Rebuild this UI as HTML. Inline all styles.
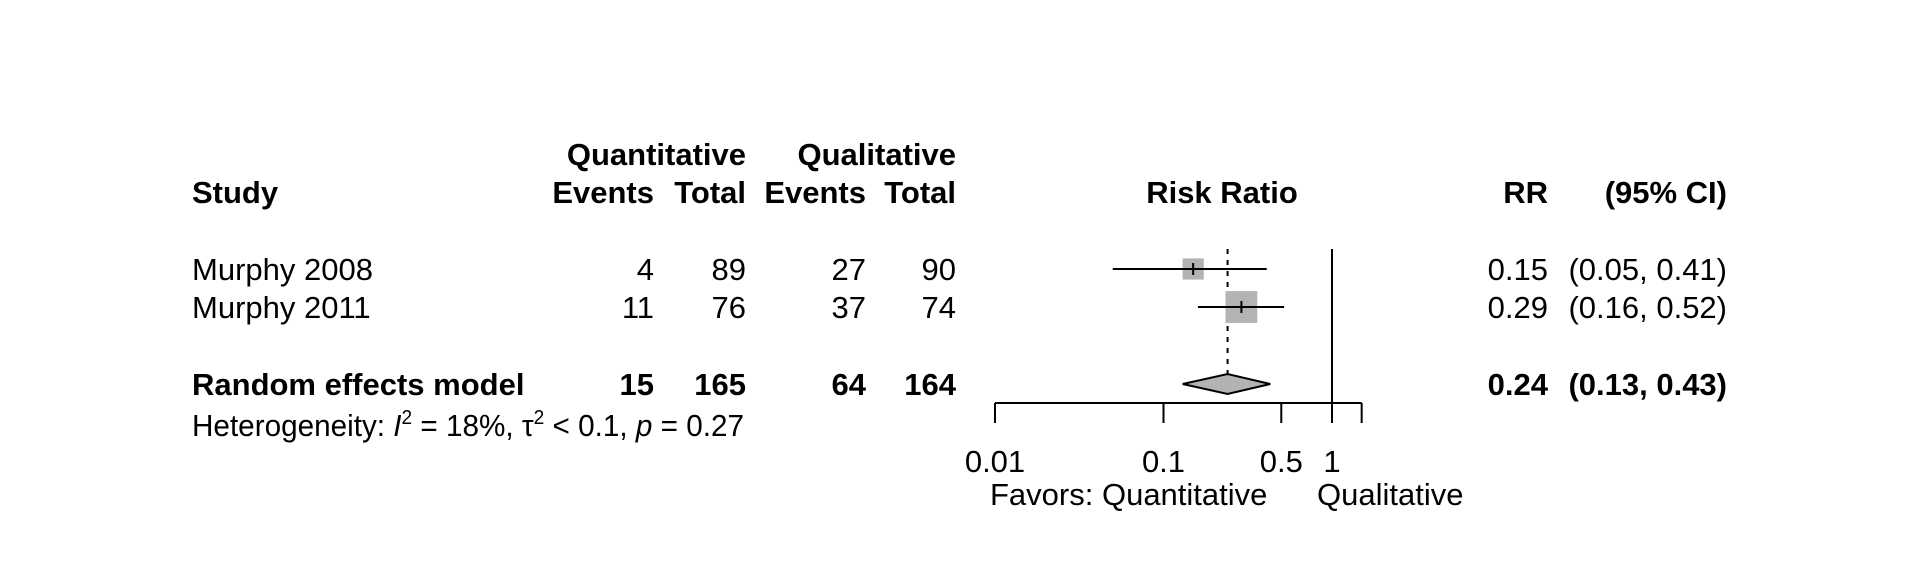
<!DOCTYPE html>
<html><head><meta charset="utf-8"><style>
html,body{margin:0;padding:0;background:#fff}
svg{display:block}
text{font-family:"Liberation Sans",Arial,sans-serif;font-size:31px;fill:#000}
.b{font-weight:bold}
</style></head><body>
<svg id="chart" width="1920" height="576" viewBox="0 0 1920 576">
<g id="table"></g>
<g id="plot"></g>
</svg>
<script>
const studies=["Murphy 2008","Murphy 2011"];
const qEvents=[4,11];
const qTotal=[89,76];
const lEvents=[27,37];
const lTotal=[90,74];
const rr=[0.15,0.29];
const lower=[0.05,0.16];
const upper=[0.41,0.52];
const weights=[0.4,0.6];
const pooled=[0.24,0.13,0.43];
const pooledCounts=[15,165,64,164];
const ticks=[0.01,0.1,0.5,1,1.5];
const tickLabels=["0.01","0.1","0.5","1",""];

const NS="http://www.w3.org/2000/svg";
const xs=v=>1332+168.5*Math.log10(v);
const rowY=[269,307];
function el(tag,attrs,parent,txt){const e=document.createElementNS(NS,tag);for(const k in attrs)e.setAttribute(k,attrs[k]);if(txt!==undefined)e.textContent=txt;parent.appendChild(e);return e;}
const T=document.getElementById('table'),P=document.getElementById('plot');
function txt(x,y,s,anchor,bold,name){const e=el('text',{x:x,y:y,'text-anchor':anchor||'start'},T,s);if(bold)e.setAttribute('class','b');

return e;}
txt(746,165,"Quantitative","end",1,"header-quantitative");
txt(956,165,"Qualitative","end",1,"header-qualitative");
txt(192,203,"Study","start",1,"header-study");
txt(654,203,"Events","end",1,"header-q-events");
txt(746,203,"Total","end",1,"header-q-total");
txt(866,203,"Events","end",1,"header-l-events");
txt(956,203,"Total","end",1,"header-l-total");
txt(1222,203,"Risk Ratio","middle",1,"header-risk-ratio");
txt(1548,203,"RR","end",1,"header-rr");
txt(1727,203,"(95% CI)","end",1,"header-ci");
const f=v=>v.toFixed(2);
studies.forEach((s,i)=>{const y=rowY[i]+11;
txt(192,y,s,"start",0,"study-name");
txt(654,y,String(qEvents[i]),"end",0,"q-events");
txt(746,y,String(qTotal[i]),"end",0,"q-total");
txt(866,y,String(lEvents[i]),"end",0,"l-events");
txt(956,y,String(lTotal[i]),"end",0,"l-total");
txt(1548,y,f(rr[i]),"end",0,"rr-value");
txt(1727,y,"("+f(lower[i])+", "+f(upper[i])+")","end",0,"ci-value");
});
const sy=395;
txt(192,sy,"Random effects model","start",1,"pooled-label");
txt(654,sy,String(pooledCounts[0]),"end",1,"pooled-q-events");
txt(746,sy,String(pooledCounts[1]),"end",1,"pooled-q-total");
txt(866,sy,String(pooledCounts[2]),"end",1,"pooled-l-events");
txt(956,sy,String(pooledCounts[3]),"end",1,"pooled-l-total");
txt(1548,sy,f(pooled[0]),"end",1,"pooled-rr");
txt(1727,sy,"("+f(pooled[1])+", "+f(pooled[2])+")","end",1,"pooled-ci");
const h=el('text',{x:192,y:436,textLength:552,lengthAdjust:'spacingAndGlyphs'},T);


h.innerHTML='Heterogeneity: <tspan font-style="italic">I</tspan><tspan dy="-12" font-size="20">2</tspan><tspan dy="12"> = 18%, τ</tspan><tspan dy="-12" font-size="20">2</tspan><tspan dy="12"> &lt; 0.1, </tspan><tspan font-style="italic">p</tspan> = 0.27';
let ln=el('line',{x1:xs(1),x2:xs(1),y1:249,y2:403,stroke:'#000','stroke-width':2},P);

ln=el('line',{x1:xs(pooled[0]),x2:xs(pooled[0]),y1:249,y2:374,stroke:'#000','stroke-width':2,'stroke-dasharray':'5,6'},P);

studies.forEach((s,i)=>{const y=rowY[i];const sz=weights[i]*53;
const r=el('rect',{x:xs(rr[i])-sz/2,y:y-sz/2,width:sz,height:sz,fill:'#b3b3b3'},P);

const c=el('line',{x1:xs(lower[i]),x2:xs(upper[i]),y1:y,y2:y,stroke:'#000','stroke-width':2},P);

const m=el('line',{x1:xs(rr[i]),x2:xs(rr[i]),y1:y-6,y2:y+6,stroke:'#000','stroke-width':2},P);

});
const dy=384;
const d=el('polygon',{points:`${xs(pooled[1])},${dy} ${xs(pooled[0])},${dy-10} ${xs(pooled[2])},${dy} ${xs(pooled[0])},${dy+10}`,fill:'#b3b3b3',stroke:'#000','stroke-width':2},P);

const ax=el('line',{x1:xs(ticks[0]),x2:xs(ticks[ticks.length-1]),y1:403,y2:403,stroke:'#000','stroke-width':2},P);

ticks.forEach((t,i)=>{const tk=el('line',{x1:xs(t),x2:xs(t),y1:403,y2:423,stroke:'#000','stroke-width':2},P);

if(tickLabels[i]){const l=el('text',{x:xs(t),y:472,'text-anchor':'middle'},P,tickLabels[i]);
}});
let lb=el('text',{x:990,y:505},P,"Favors: Quantitative");

lb=el('text',{x:1317,y:505},P,"Qualitative");

</script>
</body></html>
